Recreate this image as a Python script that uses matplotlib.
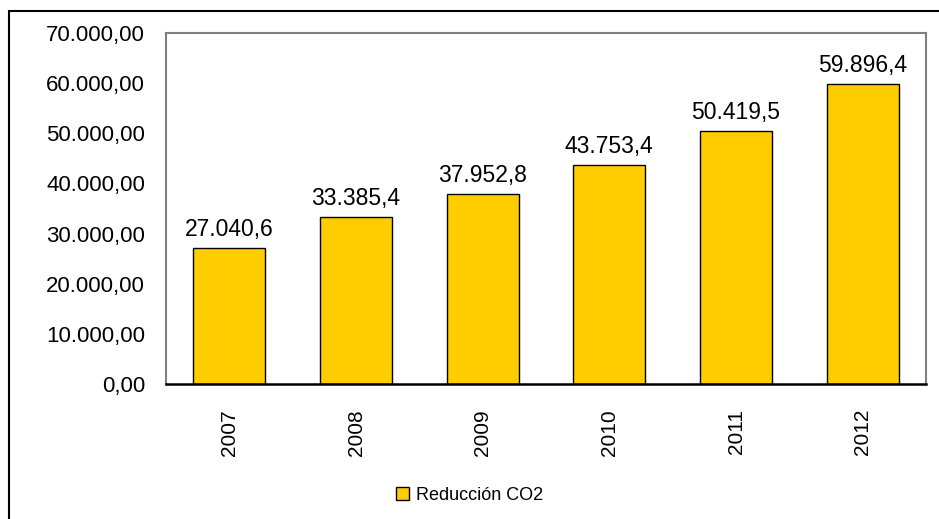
import matplotlib.pyplot as plt
from matplotlib.patches import Rectangle

years = ['2007', '2008', '2009', '2010', '2011', '2012']
reduccion = [27040.6, 33385.4, 37952.8, 43753.4, 50419.5, 59896.4]
yticks = [0, 10000, 20000, 30000, 40000, 50000, 60000, 70000]


def es_num(v, dec):
    # miles con punto, decimales con coma
    s = f"{v:,.{dec}f}"
    return s.replace(',', 'X').replace('.', ',').replace('X', '.')


plt.rcParams['font.family'] = ['Liberation Sans', 'DejaVu Sans']

fig = plt.figure(figsize=(9.39, 5.19), dpi=100)
ax = fig.add_axes([0.1768, 0.2601, 0.8094, 0.6763])

x = range(len(years))
bars = ax.bar(x, reduccion, width=0.57, color='#FFCC00', edgecolor='black',
              linewidth=1.0, label='Reducción CO2', zorder=3)

for xi, v in zip(x, reduccion):
    ax.text(xi, v + 1400, es_num(v, 1), ha='center', va='bottom', fontsize=16.5)

ax.set_xlim(-0.5, len(years) - 0.5)
ax.set_ylim(0, 70000)
ax.set_yticks(yticks)
ax.set_yticklabels([es_num(t, 2) for t in yticks], fontsize=16)
ax.set_xticks(list(x))
ax.set_xticklabels(years, rotation=90, fontsize=15)
ax.tick_params(axis='y', length=0, pad=15)
ax.tick_params(axis='x', length=0, pad=18)

for side in ['left', 'top', 'right']:
    ax.spines[side].set_color('#808080')
    ax.spines[side].set_linewidth(1.5)
ax.spines['bottom'].set_color('black')
ax.spines['bottom'].set_linewidth(1.8)
ax.spines['bottom'].set_zorder(4)

leg = fig.legend(handles=[bars], loc='center', bbox_to_anchor=(0.5, 0.0462),
                 frameon=False, fontsize=13, handlelength=0.7, handleheight=0.7,
                 handletextpad=0.4)

# marco exterior del gráfico
fig.patches.append(Rectangle((9 / 939, -0.05), 1.1, 1 - 11 / 519 + 0.05,
                             transform=fig.transFigure, fill=False,
                             edgecolor='black', linewidth=1.5))

fig.savefig('out.png', dpi=100)
